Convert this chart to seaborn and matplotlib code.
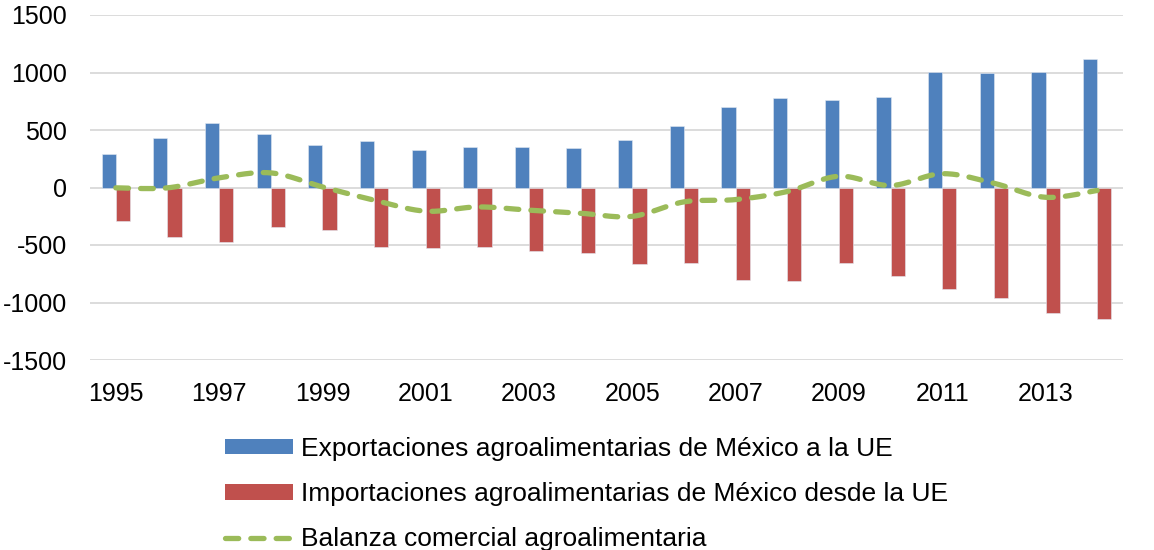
import numpy as np
import pandas as pd
import matplotlib
matplotlib.use("Agg")
import matplotlib.pyplot as plt
import seaborn as sns
from matplotlib.patches import Patch
from matplotlib.lines import Line2D

# Agri-food trade between Mexico and the EU (millions of USD)
years = [str(y) for y in range(1995, 2015)]
exports = [292, 428, 561, 469, 373, 408, 324, 352, 356, 344,
           417, 532, 700, 781, 758, 784, 1003, 998, 1003, 1114]
imports = [-295, -431, -477, -342, -368, -518, -530, -521, -553, -568,
           -668, -657, -805, -816, -660, -767, -883, -961, -1088, -1140]
balance = [-3, -3, 84, 127, 5, -110, -206, -169, -197, -224,
           -251, -125, -105, -35, 98, 17, 120, 37, -85, -26]
tick_years = [str(y) for y in range(1995, 2015, 2)]

lbl_exp = "Exportaciones agroalimentarias de México a la UE"
lbl_imp = "Importaciones agroalimentarias de México desde la UE"
lbl_bal = "Balanza comercial agroalimentaria"

c_exp, c_imp, c_bal = "#4F81BD", "#C0504D", "#9BBB59"

df = pd.DataFrame({
    "year": years * 2,
    "value": exports + imports,
    "series": [lbl_exp] * len(years) + [lbl_imp] * len(years),
})

sns.set_theme(style="white")
plt.rcParams["font.family"] = ["Liberation Sans", "DejaVu Sans"]
plt.rcParams["axes.unicode_minus"] = False
plt.rcParams["text.color"] = "black"

fig = plt.figure(figsize=(11.54, 5.5), dpi=100)
ax = fig.add_axes([90 / 1154, 1 - 360 / 550, (1123 - 90) / 1154, 345 / 550])

sns.barplot(data=df, x="year", y="value", hue="series", order=years,
            palette=[c_exp, c_imp], saturation=1, width=0.55, gap=0,
            dodge=True, edgecolor="#e3e9f2", linewidth=0.4, legend=False,
            ax=ax, zorder=2)


def smooth_curve(xs, ys, n=30):
    """Cubic Bezier smoothing through every point (Catmull-Rom style)."""
    xs = np.asarray(xs, float)
    ys = np.asarray(ys, float)
    px, py = [], []
    for i in range(len(xs) - 1):
        x0, y0 = (xs[i - 1], ys[i - 1]) if i > 0 else (xs[i], ys[i])
        x1, y1 = xs[i], ys[i]
        x2, y2 = xs[i + 1], ys[i + 1]
        x3, y3 = (xs[i + 2], ys[i + 2]) if i + 2 < len(xs) else (x2, y2)
        c1x, c1y = x1 + (x2 - x0) / 6, y1 + (y2 - y0) / 6
        c2x, c2y = x2 - (x3 - x1) / 6, y2 - (y3 - y1) / 6
        t = np.linspace(0, 1, n, endpoint=(i == len(xs) - 2))
        a, b, c, d = (1 - t) ** 3, 3 * (1 - t) ** 2 * t, 3 * (1 - t) * t ** 2, t ** 3
        px.append(a * x1 + b * c1x + c * c2x + d * x2)
        py.append(a * y1 + b * c1y + c * c2y + d * y2)
    return np.concatenate(px), np.concatenate(py)


sx, sy = smooth_curve(np.arange(len(years)), balance)
ax.plot(sx, sy, color=c_bal, lw=3.8, linestyle=(0, (2.4, 2.3)),
        dash_capstyle="round", zorder=3)

ax.set_ylim(-1500, 1500)
ax.set_xlim(-0.5, len(years) - 0.5)
ax.set_yticks(np.arange(-1500, 1501, 500))
ax.set_xticks([years.index(y) for y in tick_years])
ax.set_xticklabels(tick_years)
ax.yaxis.grid(True, color="#d9d9d9", lw=1.3, zorder=0)
ax.xaxis.grid(False)
ax.set_axisbelow(True)
for s in ax.spines.values():
    s.set_visible(False)
ax.tick_params(axis="y", length=0, pad=16.5, labelsize=18, colors="black")
ax.tick_params(axis="x", length=0, pad=16, labelsize=18, colors="black")
ax.set_xlabel("")
ax.set_ylabel("")

handles = [
    Patch(facecolor=c_exp, edgecolor="none"),
    Patch(facecolor=c_imp, edgecolor="none"),
    Line2D([0], [0], color=c_bal, lw=3.8, linestyle=(0, (2.5, 2.3)),
           dash_capstyle="round"),
]
fig.legend(handles, [lbl_exp, lbl_imp, lbl_bal], loc="upper left",
           bbox_to_anchor=(225 / 1154, 1 - 437 / 550), frameon=False,
           fontsize=19, handlelength=2.58, handleheight=0.53,
           handletextpad=0.3, labelspacing=0.8, borderpad=0,
           borderaxespad=0)

fig.savefig("out.png", dpi=100)
